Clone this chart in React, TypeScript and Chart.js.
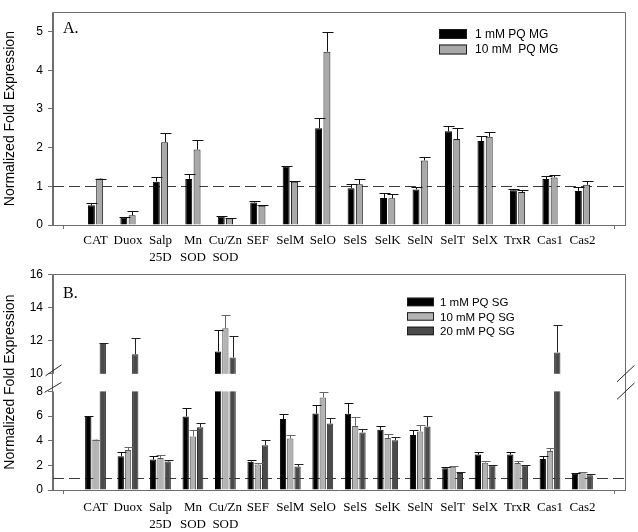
import React, { useEffect, useRef } from 'react';
import { Chart, registerables, LinearScale } from 'chart.js';

Chart.register(...registerables);

// ---------- data ----------
const categories: string[][] = [
  ['CAT'], ['Duox'], ['Salp', '25D'], ['Mn', 'SOD'], ['Cu/Zn', 'SOD'], ['SEF'], ['SelM'], ['SelO'],
  ['SelS'], ['SelK'], ['SelN'], ['SelT'], ['SelX'], ['TrxR'], ['Cas1'], ['Cas2'],
];

const namesA = ['1 mM PQ MG', '10 mM  PQ MG'];
const mg1 = [0.51, 0.19, 1.12, 1.19, 0.22, 0.58, 1.52, 2.5, 0.95, 0.7, 0.92, 2.42, 2.17, 0.9, 1.19, 0.88];
const mg1Err = [0.07, 0.02, 0.12, 0.13, 0.01, 0.04, 0.0, 0.26, 0.1, 0.12, 0.06, 0.13, 0.13, 0.03, 0.07, 0.09];
const mg10 = [1.2, 0.25, 2.14, 1.95, 0.17, 0.5, 1.12, 4.48, 1.05, 0.69, 1.67, 2.22, 2.28, 0.85, 1.23, 1.04];
const mg10Err = [0.0, 0.1, 0.24, 0.25, 0.02, 0.01, 0.01, 0.51, 0.14, 0.12, 0.08, 0.28, 0.12, 0.05, 0.06, 0.09];

const namesB = ['1 mM PQ SG', '10 mM PQ SG', '20 mM PQ SG'];
const sg1 = [6.0, 2.74, 2.47, 5.97, 11.35, 2.3, 5.76, 6.2, 6.18, 4.88, 4.46, 1.77, 2.88, 2.88, 2.51, 1.32];
const sg1Err = [0.0, 0.31, 0.32, 0.66, 1.3, 0.16, 0.39, 0.66, 0.84, 0.35, 0.37, 0.13, 0.21, 0.21, 0.21, 0.03];
const sg10 = [4.09, 3.24, 2.6, 4.35, 12.74, 2.07, 4.17, 7.5, 5.2, 4.22, 4.75, 1.88, 2.22, 2.19, 3.17, 1.45];
const sg10Err = [0.0, 0.27, 0.22, 0.48, 0.83, 0.14, 0.29, 0.45, 0.71, 0.35, 0.5, 0.08, 0.13, 0.16, 0.21, 0.02];
const sg20 = [11.86, 11.18, 2.31, 5.1, 10.98, 3.63, 1.9, 5.39, 4.67, 4.04, 5.15, 1.37, 2.01, 2.01, 11.29, 1.19];
const sg20Err = [0.0, 0.98, 0.12, 0.31, 1.31, 0.45, 0.21, 0.45, 0.27, 0.29, 0.89, 0.11, 0.02, 0.02, 1.65, 0.13];

const yTicksA = [0, 1, 2, 3, 4, 5];
const yTicksB = [0, 2, 4, 6, 8, 10, 12, 14, 16];
const xTickValues = Array.from({ length: categories.length + 2 }, (_, i) => i);
const referenceLevel = 1;
const yTitle = 'Normalized Fold Expression';

// ---------- broken axis scale ----------
const BREAK_LOW = 8;
const BREAK_HIGH = 10;
const GAP_UNITS = 1.426;
const UPPER_FACTOR = 1.347;

function toT(v: number) {
  if (v <= BREAK_LOW) return v;
  if (v >= BREAK_HIGH) return BREAK_LOW + GAP_UNITS + (v - BREAK_HIGH) * UPPER_FACTOR;
  return BREAK_LOW + ((v - BREAK_LOW) / (BREAK_HIGH - BREAK_LOW)) * GAP_UNITS;
}
function fromT(t: number) {
  if (t <= BREAK_LOW) return t;
  if (t >= BREAK_LOW + GAP_UNITS) return BREAK_HIGH + (t - BREAK_LOW - GAP_UNITS) / UPPER_FACTOR;
  return BREAK_LOW + ((t - BREAK_LOW) / GAP_UNITS) * (BREAK_HIGH - BREAK_LOW);
}

class BrokenScale extends (LinearScale as any) {
  static id = 'brokenLinear';
  getPixelForValue(value: any) {
    if (value === null || value === undefined || isNaN(value)) return NaN;
    const a = toT(this.min);
    const b = toT(this.max);
    return this.getPixelForDecimal((toT(value) - a) / (b - a));
  }
  getValueForPixel(pixel: number) {
    const a = toT(this.min);
    const b = toT(this.max);
    return fromT(a + this.getDecimalForPixel(pixel) * (b - a));
  }
}
Chart.register(BrokenScale as any);

Chart.defaults.font.family = "'Liberation Sans', Arial, sans-serif";

type Spec = {
  series: number[][];
  errors: number[][];
  names: string[];
  fills: string[];
  borders: string[];
  errColors: string[];
  yType: string;
  yMax: number;
  yTicks: number[];
  padTop: number;
  xAxisHeight: number;
  xLabelPad: number;
  catPct: number;
  barPct: number;
  capHalf: number;
  panelLabel: string;
  panelLabelBaseline: number;
  legend: { x: number; y: number; boxW: number; boxH: number; rowH: number; textX: number; textDy: number; size: number };
  broken: boolean;
};

const frameColor = '#6e6e6e';

function decorPlugin(spec: Spec) {
  return {
    id: 'panelDecor',
    beforeDatasetsDraw(chart: any) {
      const { ctx, chartArea: ca, scales } = chart;
      const y1 = Math.round(scales.y.getPixelForValue(referenceLevel)) + 0.5;
      ctx.save();
      ctx.strokeStyle = '#3a3a3a';
      ctx.lineWidth = 1;
      ctx.setLineDash([11, 5]);
      ctx.beginPath();
      ctx.moveTo(ca.left, y1);
      ctx.lineTo(ca.right, y1);
      ctx.stroke();
      ctx.restore();
    },
    afterDatasetsDraw(chart: any) {
      const { ctx, chartArea: ca, scales } = chart;
      const ys = scales.y;
      ctx.save();
      if (spec.broken) {
        const top = ys.getPixelForValue(BREAK_HIGH);
        const bot = ys.getPixelForValue(BREAK_LOW);
        ctx.fillStyle = '#ffffff';
        ctx.fillRect(ca.left, top, ca.right - ca.left, bot - top);
      }
      ctx.lineWidth = 1;
      chart.data.datasets.forEach((_ds: any, i: number) => {
        const meta = chart.getDatasetMeta(i);
        meta.data.forEach((el: any, j: number) => {
          const v = spec.series[i][j];
          const e = spec.errors[i][j];
          const x = Math.round(el.x) + 0.5;
          const yTop = ys.getPixelForValue(v);
          const yErr = Math.round(ys.getPixelForValue(v + e)) + 0.5;
          ctx.strokeStyle = spec.errColors[i];
          ctx.beginPath();
          ctx.moveTo(x, yTop);
          ctx.lineTo(x, yErr);
          ctx.moveTo(x - spec.capHalf, yErr);
          ctx.lineTo(x + spec.capHalf + 1, yErr);
          ctx.stroke();
        });
      });
      ctx.restore();
    },
    afterDraw(chart: any) {
      const { ctx, chartArea: ca, scales } = chart;
      const ys = scales.y;
      ctx.save();
      // frame
      ctx.strokeStyle = frameColor;
      ctx.lineWidth = 1;
      const l = Math.round(ca.left) - 0.5;
      const r = Math.round(ca.right) + 0.5;
      const t = Math.round(ca.top) + 0.5;
      const b = Math.round(ca.bottom) + 0.5;
      ctx.beginPath();
      ctx.moveTo(l, b);
      ctx.lineTo(l, t);
      ctx.lineTo(r, t);
      ctx.lineTo(r, b);
      ctx.stroke();
      // break marks
      if (spec.broken) {
        const p10 = ys.getPixelForValue(BREAK_HIGH);
        const p8 = ys.getPixelForValue(BREAK_LOW);
        ctx.strokeStyle = '#2a2a2a';
        ctx.beginPath();
        ctx.moveTo(l - 7, p10 + 2);
        ctx.lineTo(l + 9, p10 - 9);
        ctx.moveTo(l - 8, p8 + 1);
        ctx.lineTo(l + 9, p8 - 9);
        ctx.moveTo(r - 8.5, p10 + 8);
        ctx.lineTo(r + 9, p10 - 8.5);
        ctx.moveTo(r - 8.5, p8 + 8);
        ctx.lineTo(r + 9, p8 - 8.5);
        ctx.stroke();
      }
      // legend
      const lg = spec.legend;
      ctx.font = `${lg.size}px 'Liberation Sans', Arial, sans-serif`;
      ctx.textBaseline = 'alphabetic';
      ctx.textAlign = 'left';
      spec.names.forEach((name, i) => {
        const by = lg.y + i * lg.rowH;
        ctx.fillStyle = spec.fills[i];
        ctx.fillRect(lg.x, by, lg.boxW, lg.boxH);
        ctx.strokeStyle = '#1e1e1e';
        ctx.strokeRect(lg.x + 0.5, by + 0.5, lg.boxW - 1, lg.boxH - 1);
        ctx.fillStyle = '#000';
        ctx.fillText(name, lg.textX, by + lg.textDy);
      });
      // panel label
      ctx.font = "16px 'Liberation Serif', 'Times New Roman', serif";
      ctx.fillStyle = '#000';
      ctx.fillText(spec.panelLabel, ca.left + 10, ca.top + spec.panelLabelBaseline);
      ctx.restore();
    },
  };
}

function buildConfig(spec: Spec): any {
  return {
    type: 'bar',
    data: {
      datasets: spec.series.map((vals, i) => ({
        label: spec.names[i],
        data: vals.map((v, j) => ({ x: j + 1, y: v })),
        backgroundColor: spec.fills[i],
        borderColor: spec.borders[i],
        borderWidth: 1,
        categoryPercentage: spec.catPct,
        barPercentage: spec.barPct,
      })),
    },
    options: {
      responsive: false,
      animation: false,
      devicePixelRatio: 1,
      layout: { padding: { left: 0, right: 13, top: spec.padTop, bottom: 0 } },
      plugins: { legend: { display: false }, tooltip: { enabled: false }, title: { display: false } },
      scales: {
        x: {
          type: 'linear',
          min: -0.31,
          max: xTickValues.length - 1 + 0.31,
          offset: false,
          afterBuildTicks: (s: any) => {
            s.ticks = xTickValues.map((v) => ({ value: v }));
          },
          afterFit: (s: any) => {
            s.height = spec.xAxisHeight;
          },
          grid: {
            offset: false,
            drawOnChartArea: false,
            drawTicks: true,
            tickLength: 4,
            color: frameColor,
            tickColor: (c: any) =>
              c.tick && (c.tick.value === 0 || c.tick.value === xTickValues.length - 1) ? frameColor : 'rgba(0,0,0,0)',
          },
          border: { color: frameColor, width: 1 },
          ticks: {
            autoSkip: false,
            maxRotation: 0,
            minRotation: 0,
            padding: spec.xLabelPad,
            color: '#000',
            font: { family: "'Liberation Serif', 'Times New Roman', serif", size: 13, lineHeight: 1.3 },
            callback: (v: any) => {
              const idx = Math.round(Number(v)) - 1;
              return idx >= 0 && idx < categories.length ? categories[idx] : '';
            },
          },
        },
        y: {
          type: spec.yType,
          min: 0,
          max: spec.yMax,
          afterBuildTicks: (s: any) => {
            s.ticks = spec.yTicks.map((v) => ({ value: v }));
          },
          afterFit: (s: any) => {
            s.width = 53;
          },
          grid: { drawOnChartArea: false, drawTicks: true, tickLength: 5, color: frameColor },
          border: { color: frameColor, width: 1 },
          ticks: { padding: 5, color: '#000', font: { size: 12 } },
          title: {
            display: true,
            text: yTitle,
            color: '#000',
            font: { size: 14 },
            padding: { top: 2, bottom: 0 },
          },
        },
      },
    },
    plugins: [decorPlugin(spec)],
  };
}

const specA: Spec = {
  series: [mg1, mg10],
  errors: [mg1Err, mg10Err],
  names: namesA,
  fills: ['#000000', '#a9a9a9'],
  borders: ['#000000', '#1a1a1a'],
  errColors: ['#111111', '#111111'],
  yType: 'linear',
  yMax: 5.5,
  yTicks: yTicksA,
  padTop: 4,
  xAxisHeight: 45,
  xLabelPad: 3,
  catPct: 0.51,
  barPct: 0.84,
  capHalf: 5,
  panelLabel: 'A.',
  panelLabelBaseline: 21,
  legend: { x: 439, y: 29, boxW: 28, boxH: 10, rowH: 15.5, textX: 475, textDy: 8.8, size: 12 },
  broken: false,
};

const specB: Spec = {
  series: [sg1, sg10, sg20],
  errors: [sg1Err, sg10Err, sg20Err],
  names: namesB,
  fills: ['#000000', '#b3b3b3', '#4a4a4a'],
  borders: ['#000000', '#555555', '#2a2a2a'],
  errColors: ['#111111', '#666666', '#222222'],
  yType: 'brokenLinear',
  yMax: 16,
  yTicks: yTicksB,
  padTop: 7,
  xAxisHeight: 42,
  xLabelPad: 5.5,
  catPct: 0.67,
  barPct: 0.87,
  capHalf: 4,
  panelLabel: 'B.',
  panelLabelBaseline: 24,
  legend: { x: 407, y: 35.7, boxW: 27, boxH: 8.5, rowH: 14.5, textX: 440, textDy: 8.4, size: 11.5 },
  broken: true,
};

function Panel({ spec, top }: { spec: Spec; top: number }) {
  const ref = useRef<HTMLCanvasElement | null>(null);
  useEffect(() => {
    if (!ref.current) return;
    const chart = new Chart(ref.current, buildConfig(spec));
    return () => chart.destroy();
  }, [spec]);
  return (
    <canvas
      ref={ref}
      width={638}
      height={270}
      style={{ position: 'absolute', left: 0, top, width: 638, height: 270 }}
    />
  );
}

export default function App() {
  return (
    <div style={{ position: 'fixed', left: 0, top: 0, width: 638, height: 532, background: '#ffffff', overflow: 'hidden' }}>
      <Panel spec={specA} top={0} />
      <Panel spec={specB} top={262} />
    </div>
  );
}
